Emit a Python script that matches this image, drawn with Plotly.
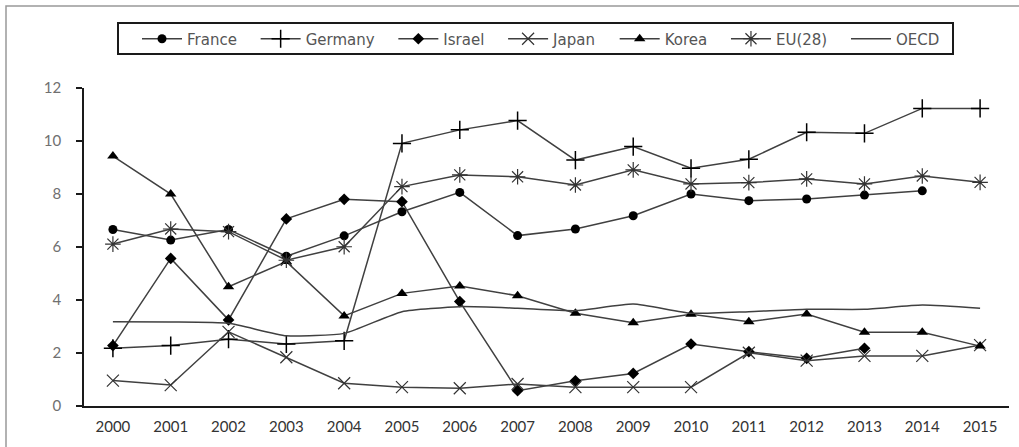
import plotly.graph_objects as go

years = list(range(2000, 2016))

france  = [6.66, 6.26, 6.66, 5.65, 6.42, 7.33, 8.06, 6.43, 6.68, 7.18, 8.00, 7.75, 7.81, 7.96, 8.12, None]
germany = [2.18, 2.28, 2.52, 2.34, 2.46, 9.91, 10.42, 10.77, 9.28, 9.79, 8.97, 9.31, 10.33, 10.29, 11.23, 11.23]
israel  = [2.28, 5.57, 3.25, 7.06, 7.80, 7.71, 3.94, 0.58, 0.95, 1.23, 2.34, 2.05, 1.80, 2.18, None, None]
japan   = [0.96, 0.79, 2.80, 1.84, 0.86, 0.71, 0.67, 0.83, 0.71, 0.71, 0.71, 2.01, 1.71, 1.89, 1.89, 2.30]
korea   = [9.43, 8.00, 4.50, 5.45, 3.40, 4.25, 4.53, 4.16, 3.50, 3.14, 3.46, 3.18, 3.47, 2.78, 2.78, 2.26]
eu28    = [6.11, 6.68, 6.58, 5.50, 6.01, 8.28, 8.72, 8.65, 8.34, 8.91, 8.38, 8.43, 8.57, 8.38, 8.68, 8.44]
oecd    = [3.18, 3.17, 3.12, 2.65, 2.74, 3.56, 3.75, 3.69, 3.60, 3.85, 3.50, 3.56, 3.65, 3.65, 3.81, 3.69]

y_ticks = [0, 2, 4, 6, 8, 10, 12]

LINE = "#404040"
PAD = "\u00a0\u2009\u2009\u2009"
series = [
    ("France", france, dict(symbol="circle", size=9, color="black")),
    ("Germany", germany, dict(symbol="cross-thin", size=13, color="black", line=dict(width=1.5, color="black"))),
    ("Israel", israel, dict(symbol="diamond", size=9, color="black")),
    ("Japan", japan, dict(symbol="x-thin", size=12, color="black", line=dict(width=1.2, color="#333333"))),
    ("Korea", korea, dict(symbol="triangle-up", size=10, color="black")),
    ("EU(28)", eu28, dict(symbol="asterisk", size=13, color="black", line=dict(width=1.2, color="#333333"))),
]

fig = go.Figure()
for name, vals, mk in series:
    fig.add_trace(go.Scatter(
        x=years, y=vals, name=name + PAD, mode="lines+markers",
        line=dict(color=LINE, width=1.5),
        marker=mk,
    ))
fig.add_trace(go.Scatter(
    x=years, y=oecd, name="OECD", mode="lines",
    line=dict(color=LINE, width=1.5, shape="spline", smoothing=0.5),
))

def px_x(p):
    return (p - 84) / 925

def px_y(p):
    return (406 - p) / 318

fig.update_layout(
    width=1019, height=447,
    margin=dict(l=84, r=10, t=88, b=41),
    paper_bgcolor="white", plot_bgcolor="white",
    font=dict(family="Lato", size=15, color="#333333"),
    showlegend=True,
    legend=dict(
        orientation="h", x=px_x(137), xanchor="left", y=px_y(39), yanchor="middle",
        borderwidth=0, bgcolor="rgba(0,0,0,0)",
        font=dict(family="DejaVu Sans", size=15, color="#555555"),
        itemwidth=40, tracegroupgap=0,
        traceorder="normal",
    ),
    xaxis=dict(
        range=[1999.5, 2015.5], tickmode="array", tickvals=years,
        ticktext=[str(y) for y in years],
        showgrid=False, zeroline=False, showline=True, linecolor="#1a1a1a", linewidth=1.5,
        ticks="", tickfont=dict(family="Lato", size=15, color="#333333"),
        ticklabelstandoff=6,
    ),
    yaxis=dict(
        range=[0, 12], tickmode="array", tickvals=y_ticks,
        showgrid=False, zeroline=False, showline=True, linecolor="#1a1a1a", linewidth=1.5,
        ticks="outside", ticklen=6, tickcolor="#1a1a1a", tickwidth=1.5,
        tickfont=dict(family="Lato", size=15, color="#707070"),
        ticklabelstandoff=12,
    ),
    shapes=[
        dict(type="rect", xref="paper", yref="paper",
             x0=px_x(6), x1=px_x(1040), y0=px_y(470), y1=px_y(6),
             line=dict(color="#999999", width=1.5), fillcolor="rgba(0,0,0,0)", layer="below"),
        dict(type="rect", xref="paper", yref="paper",
             x0=px_x(118), x1=px_x(953), y0=px_y(54), y1=px_y(23),
             line=dict(color="#1a1a1a", width=2), fillcolor="rgba(0,0,0,0)", layer="below"),
    ],
)

fig.write_html("out.html")
